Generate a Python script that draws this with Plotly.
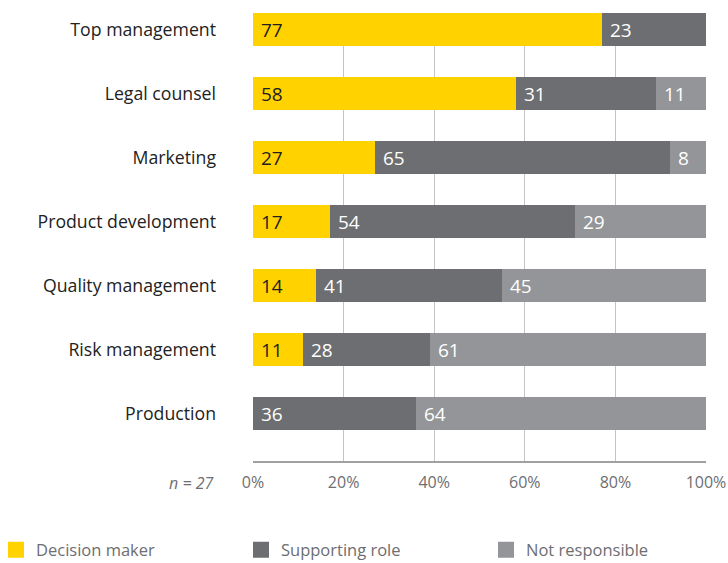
import plotly.graph_objects as go

# Roles by function (share of respondents, %)
functions = ["Top management", "Legal counsel", "Marketing", "Product development",
             "Quality management", "Risk management", "Production"]
decision_maker = [77, 58, 27, 17, 14, 11, 0]
supporting_role = [23, 31, 65, 54, 41, 28, 36]
not_responsible = [0, 11, 8, 29, 45, 61, 64]

x_ticks = [0, 20, 40, 60, 80, 100]
x_tick_labels = ["0%", "20%", "40%", "60%", "80%", "100%"]

series = [
    ("Decision maker", decision_maker, "#FFD200", "#1F1F1F", "legend"),
    ("Supporting role", supporting_role, "#6D6E71", "#FFFFFF", "legend2"),
    ("Not responsible", not_responsible, "#939598", "#FFFFFF", "legend3"),
]

FONT = "Open Sans"
W, H = 728, 563
ML, MR, MT, MB = 253, 22, 13, 102
plot_w = W - ML - MR

fig = go.Figure()

for name, vals, color, tcolor, leg in series:
    fig.add_trace(go.Bar(
        y=functions, x=vals, orientation="h", name=name,
        marker=dict(color=color, line=dict(width=0)),
        text=["\u00a0" + str(v) if v > 0 else "" for v in vals],
        textposition="inside", insidetextanchor="start",
        textfont=dict(family=FONT, size=19, color=tcolor),
        constraintext="none",
        width=0.516, showlegend=False, hoverinfo="skip",
    ))
    # legend swatch, one legend box per series
    fig.add_trace(go.Scatter(
        x=[None], y=[None], mode="markers", name=name, legend=leg,
        marker=dict(symbol="square", size=17, color=color),
        showlegend=True,
    ))

legend_style = dict(
    orientation="h", xref="paper", yref="container",
    y=1 - 550 / H, xanchor="left", yanchor="middle",
    itemwidth=30, bgcolor="rgba(0,0,0,0)",
    font=dict(family=FONT, size=16.5, color="#6D6E71"),
    itemclick=False, itemdoubleclick=False,
)
legend_left_px = [-4, 241, 486]

n_cat = len(functions)
fig.update_layout(
    width=W, height=H,
    margin=dict(l=ML, r=MR, t=MT, b=MB, autoexpand=False),
    plot_bgcolor="white", paper_bgcolor="white",
    barmode="stack", bargap=0,
    font=dict(family=FONT, size=17, color="#222222"),
    xaxis=dict(
        range=[0, 100], tickmode="array", tickvals=x_ticks, ticktext=x_tick_labels,
        showgrid=True, gridcolor="#C4C4C4", gridwidth=1,
        zeroline=False, showline=True, linecolor="#A0A0A0", linewidth=2,
        ticks="", ticklabelstandoff=6, automargin=False,
        tickfont=dict(family=FONT, size=16, color="#6D6E71"),
    ),
    yaxis=dict(
        type="category", categoryorder="array", categoryarray=functions,
        range=[n_cat - 1 + 0.742, -0.258], automargin=False,
        showgrid=False, zeroline=False, showline=False, ticks="",
        ticklabelstandoff=36,
        tickfont=dict(family=FONT, size=17.7, color="#222222"),
    ),
    legend=dict(legend_style, x=(legend_left_px[0] - ML) / plot_w),
    legend2=dict(legend_style, x=(legend_left_px[1] - ML) / plot_w),
    legend3=dict(legend_style, x=(legend_left_px[2] - ML) / plot_w),
    annotations=[dict(
        text="<i>n = 27</i>", xref="paper", yref="paper",
        x=-0.084, y=-0.049, xanchor="right", yanchor="middle",
        showarrow=False, font=dict(family=FONT, size=16, color="#6D6E71"),
    )],
)

fig.write_html("out.html")
